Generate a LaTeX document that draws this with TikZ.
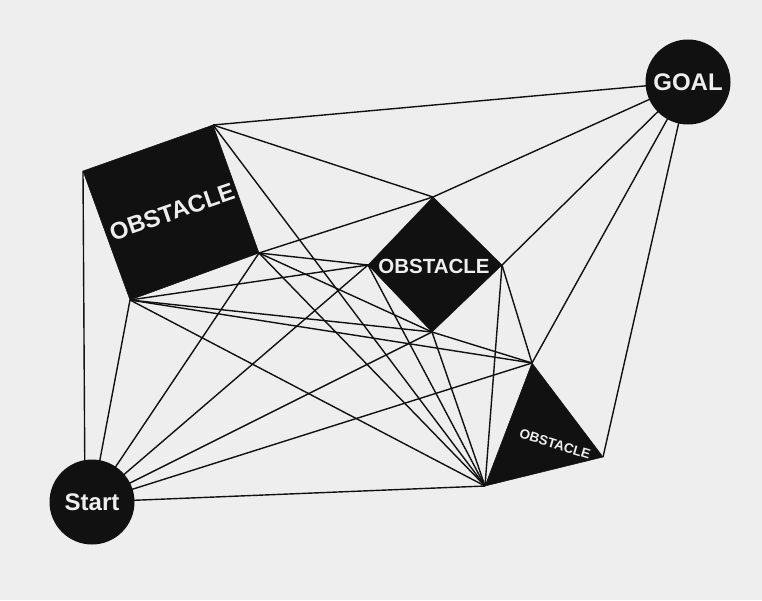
\documentclass[tikz,border=0pt]{standalone}
\usepackage{fontspec}
\setmainfont{Liberation Sans}
\definecolor{bg}{HTML}{EEEEEE}
\definecolor{ink}{HTML}{111111}
\definecolor{lbl}{HTML}{EEEEEE}
\begin{document}
\begin{tikzpicture}[x=1pt,y=-1pt,
  edge/.style={draw=ink, line width=1.4pt},
  obst/.style={fill=ink, draw=ink, line width=0.5pt, line join=miter},
  endpt/.style={circle, fill=ink, minimum size=85pt, inner sep=0pt, text=lbl, font=\bfseries\fontsize{24}{24}\selectfont},
  olabel/.style={text=lbl, inner sep=0pt}]
\fill[bg] (0,0) rectangle (762,600);
\useasboundingbox (0,0) rectangle (762,600);
% vertices
\coordinate (Sc) at (92,502);
\coordinate (Gc) at (688,82);
\coordinate (A1) at (83,171);
\coordinate (A2) at (213,125);
\coordinate (A3) at (259,253);
\coordinate (A4) at (130,300);
\coordinate (D1) at (433,197);
\coordinate (D2) at (502,265);
\coordinate (D3) at (432,332);
\coordinate (D4) at (368,265);
\coordinate (T1) at (532,363);
\coordinate (T2) at (603,457);
\coordinate (T3) at (485,486);
\coordinate (S1) at (85,502);
% connectors
\draw[edge] (S1) -- (A1);
\draw[edge] (Sc) -- (A3);
\draw[edge] (Sc) -- (A4);
\draw[edge] (Sc) -- (D4);
\draw[edge] (Sc) -- (D3);
\draw[edge] (Sc) -- (T1);
\draw[edge] (Sc) -- (T3);
\draw[edge] (Gc) -- (A2);
\draw[edge] (Gc) -- (D1);
\draw[edge] (Gc) -- (D2);
\draw[edge] (Gc) -- (T1);
\draw[edge] (Gc) -- (T2);
\draw[edge] (A2) -- (D1);
\draw[edge] (A2) -- (T3);
\draw[edge] (A3) -- (D1);
\draw[edge] (A3) -- (D4);
\draw[edge] (A3) -- (D3);
\draw[edge] (A3) -- (T3);
\draw[edge] (A4) -- (D4);
\draw[edge] (A4) -- (D3);
\draw[edge] (A4) -- (T1);
\draw[edge] (A4) -- (T3);
\draw[edge] (D2) -- (T1);
\draw[edge] (D2) -- (T3);
\draw[edge] (D3) -- (T1);
\draw[edge] (D3) -- (T3);
\draw[edge] (D4) -- (T3);
% obstacles
\fill[obst] (A1) -- (A2) -- (A3) -- (A4) -- cycle;
\fill[obst] (D1) -- (D2) -- (D3) -- (D4) -- cycle;
\fill[obst] (T1) -- (T2) -- (T3) -- cycle;
% labels
\node[olabel, rotate=19, font=\bfseries\fontsize{24}{24}\selectfont] (L1) at (172,212) {OBSTACLE};
\node[olabel, font=\bfseries\fontsize{20.5}{20.5}\selectfont] (L2) at (434,266) {OBSTACLE};
\node[olabel, rotate=-17, font=\bfseries\fontsize{13.5}{13.5}\selectfont] (L3) at (555,444) {OBSTACLE};
% start and goal
\node[endpt] (S) at (Sc) {Start};
\node[endpt] (G) at (Gc) {GOAL};
\end{tikzpicture}
\end{document}
